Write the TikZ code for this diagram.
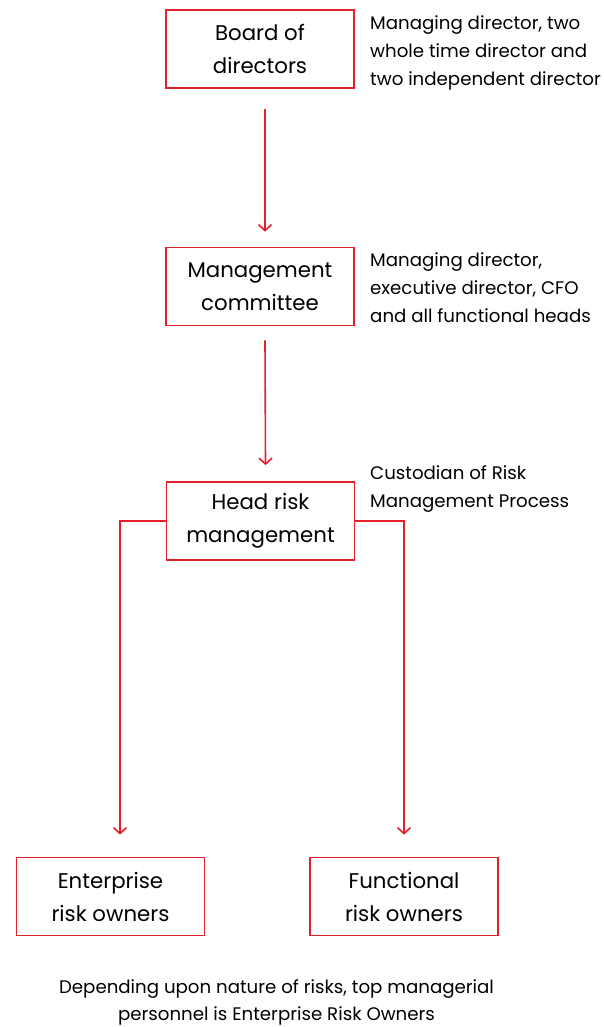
\documentclass[tikz,border=0pt]{standalone}
\usepackage{fontspec}
\setmainfont{Poppins}
\usetikzlibrary{arrows.meta}
\definecolor{riskred}{HTML}{E5202C}

\begin{document}
\begin{tikzpicture}[x=1pt,y=-1pt,
    box/.style={draw=riskred, line width=1.7pt, minimum width=188pt, minimum height=78pt,
      align=center, inner sep=0pt, font=\fontsize{21.3}{33}\selectfont},
    note/.style={anchor=north west, align=left, inner sep=0pt, font=\fontsize{18.2}{28}\selectfont},
    link/.style={draw=riskred, line width=1.6pt, -{Straight Barb[length=6pt,width=13pt]}}]
  \useasboundingbox (0,0) rectangle (604,1027);

  % boxes
  \node[box] (board) at (260,49) {Board of\\directors};
  \node[box] (mgmt) at (260,286.5) {Management\\committee};
  \node[box] (head) at (260.5,521) {Head risk\\management};
  \node[box] (ent) at (110.5,896.5) {Enterprise\\risk owners};
  \node[box] (func) at (404,896.5) {Functional\\risk owners};

  \draw[link] ([xshift=5pt,yshift=-20pt]board.south) -- ([xshift=5pt,yshift=15pt]mgmt.north);
  \draw[link] ([xshift=5pt,yshift=-14pt]mgmt.south) -- ([xshift=5pt,yshift=16pt]head.north);
  \draw[link] (head.west) -| ([xshift=9.5pt,yshift=22pt]ent.north);
  \draw[link] (head.east) -| ([yshift=22pt]func.north);

  % side notes
  \node[note] (n1) at (370,15) {Managing director, two\\whole time director and\\two independent director};
  \node[note] (n2) at (370,252) {Managing director,\\executive director, CFO\\and all functional heads};
  \node[note] (n3) at (370,465) {Custodian of Risk\\Management Process};
  \node[note, anchor=north, align=center, font=\fontsize{18.2}{27}\selectfont] (n4) at (276.5,979)
    {Depending upon nature of risks, top managerial\\personnel is Enterprise Risk Owners};
\end{tikzpicture}
\end{document}
